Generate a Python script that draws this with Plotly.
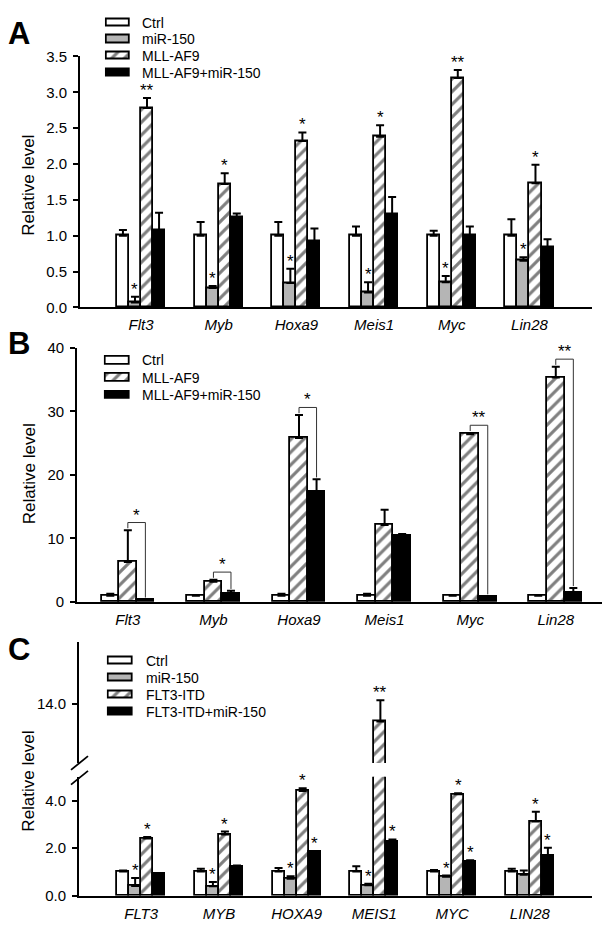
import plotly.graph_objects as go

FONT = "Liberation Sans, Arial, sans-serif"

# ---------------- data ----------------
genes_mouse = ["Flt3", "Myb", "Hoxa9", "Meis1", "Myc", "Lin28"]
genes_human = ["FLT3", "MYB", "HOXA9", "MEIS1", "MYC", "LIN28"]

# Panel A
a_names = ["Ctrl", "miR-150", "MLL-AF9", "MLL-AF9+miR-150"]
a_ctrl = [1.0, 1.0, 1.0, 1.0, 1.0, 1.0]
a_ctrl_err = [0.08, 0.19, 0.19, 0.13, 0.07, 0.23]
a_mir = [0.07, 0.27, 0.34, 0.21, 0.35, 0.65]
a_mir_err = [0.08, 0.03, 0.20, 0.14, 0.09, 0.05]
a_mll = [2.78, 1.72, 2.32, 2.38, 3.20, 1.73]
a_mll_err = [0.14, 0.15, 0.12, 0.16, 0.11, 0.26]
a_combo = [1.08, 1.25, 0.92, 1.30, 1.00, 0.84]
a_combo_err = [0.24, 0.06, 0.18, 0.24, 0.13, 0.11]
a_star_ctrl = ["", "", "", "", "", ""]
a_star_mir = ["*", "*", "*", "*", "*", "*"]
a_star_mll = ["**", "*", "*", "*", "**", "*"]
a_star_combo = ["", "", "", "", "", ""]

# Panel B
b_names = ["Ctrl", "MLL-AF9", "MLL-AF9+miR-150"]
b_ctrl = [1.0, 1.0, 1.0, 1.0, 1.0, 1.0]
b_ctrl_err = [0.3, 0.05, 0.3, 0.3, 0.05, 0.05]
b_mll = [6.3, 3.2, 25.8, 12.1, 26.4, 35.3]
b_mll_err = [5.0, 0.3, 3.6, 2.4, 0.2, 1.7]
b_combo = [0.3, 1.35, 17.3, 10.5, 0.8, 1.5]
b_combo_err = [0.1, 0.4, 2.0, 0.2, 0.1, 0.7]
b_stars = ["*", "*", "*", "", "**", "**"]

# Panel C
c_names = ["Ctrl", "miR-150", "FLT3-ITD", "FLT3-ITD+miR-150"]
c_ctrl = [1.02, 1.02, 1.02, 1.02, 1.02, 1.02]
c_ctrl_err = [0.04, 0.12, 0.15, 0.22, 0.06, 0.12]
c_mir = [0.41, 0.40, 0.72, 0.44, 0.80, 0.89]
c_mir_err = [0.34, 0.18, 0.10, 0.07, 0.05, 0.17]
c_itd = [2.41, 2.57, 4.40, 13.25, 4.26, 3.12]
c_itd_err = [0.06, 0.13, 0.12, 0.90, 0.05, 0.41]
c_combo = [0.93, 1.24, 1.84, 2.29, 1.44, 1.67]
c_combo_err = [0.03, 0.03, 0.03, 0.08, 0.05, 0.35]
c_star_ctrl = ["", "", "", "", "", ""]
c_star_mir = ["*", "*", "*", "*", "*", ""]
c_star_itd = ["*", "*", "*", "**", "*", "*"]
c_star_combo = ["", "", "*", "*", "*", "*"]

# ---------------- styles ----------------
GRAY = "#b5b5b5"
styles4 = [
    dict(color="white"),
    dict(color=GRAY),
    dict(color="white", pattern=dict(shape="/", fgcolor="black", bgcolor="white", size=9, solidity=0.35)),
    dict(color="black"),
]
styles3 = [styles4[0], styles4[2], styles4[3]]

W, H = 612, 932


def px_x(p):
    return p / W


def px_y(p):
    return 1 - p / H


fig = go.Figure()
annotations = []
extra_axes = {}


def make_marker(st):
    marker = dict(color=st["color"], line=dict(color="black", width=1.8))
    if "pattern" in st:
        marker["pattern"] = st["pattern"]
    return marker


def add_bars(xa, ya, series, names, styles, width, stars=None, yref_star=None):
    n = len(series)
    for k, (vals, errs) in enumerate(series):
        off = (k - (n - 1) / 2) * width
        xs = [i + off for i in range(len(vals))]
        fig.add_trace(go.Bar(
            x=xs, y=vals, width=width, name=names[k], marker=make_marker(styles[k]),
            error_y=dict(type="data", array=errs, arrayminus=[0] * len(errs), symmetric=False,
                         color="black", thickness=2, width=4),
            xaxis=xa, yaxis=ya, showlegend=False,
        ))
        if stars is not None:
            for i, s in enumerate(stars[k]):
                if s:
                    yv = vals[i] + errs[i]
                    yr = yref_star(yv) if yref_star else ya
                    annotations.append(dict(
                        x=xs[i], y=yv, xref=xa, yref=yr, text=s, showarrow=False,
                        yanchor="bottom", yshift=-4,
                        font=dict(family=FONT, size=17, color="black")))


def add_legend(xa, ya, names, styles, sw_x0, sw_x1, rows, text_x):
    """Legend drawn as small horizontal bars (swatches) on a hidden axis pair."""
    n = len(names)
    step = (rows[-1] - rows[0]) / (n - 1)
    pad = 0.1
    wpx = sw_x1 - sw_x0
    extra_axes["xaxis" + xa[1:]] = dict(domain=[px_x(sw_x0 - pad * wpx), px_x(sw_x1 + pad * wpx)],
                                        range=[-pad, 1 + pad], visible=False, anchor=ya, fixedrange=True)
    extra_axes["yaxis" + ya[1:]] = dict(domain=[px_y(rows[-1] + step / 2), px_y(rows[0] - step / 2)],
                                        range=[n - 0.5, -0.5], visible=False, anchor=xa, fixedrange=True)
    for k, nm in enumerate(names):
        fig.add_trace(go.Bar(orientation="h", x=[1], y=[k], base=0, width=0.44,
                             marker=make_marker(styles[k]), xaxis=xa, yaxis=ya,
                             showlegend=False, hoverinfo="skip", cliponaxis=False))
        annotations.append(dict(x=px_x(text_x), y=k, xref="paper", yref=ya, text=nm, showarrow=False,
                                xanchor="left", yanchor="middle",
                                font=dict(family=FONT, size=14, color="black")))


# Panel A
wA = 0.155
add_bars("x", "y",
         [(a_ctrl, a_ctrl_err), (a_mir, a_mir_err), (a_mll, a_mll_err), (a_combo, a_combo_err)],
         a_names, styles4, wA,
         stars=[a_star_ctrl, a_star_mir, a_star_mll, a_star_combo])
add_legend("x4", "y5", a_names, styles4, 107, 130, [14, 31, 48.5, 65], 140)

# Panel B
wB = 0.205
add_bars("x2", "y2",
         [(b_ctrl, b_ctrl_err), (b_mll, b_mll_err), (b_combo, b_combo_err)],
         b_names, styles3, wB)
add_legend("x5", "y6", b_names, styles3, 106, 130, [358, 376, 393.5], 140)
# significance brackets between MLL-AF9 and MLL-AF9+miR-150
for i, s in enumerate(b_stars):
    if not s:
        continue
    t1 = b_mll[i] + b_mll_err[i]
    t2 = b_combo[i] + b_combo_err[i]
    h = max(t1, t2) + 1.2
    fig.add_trace(go.Scatter(
        x=[i, i, i + wB, i + wB], y=[t1 + 0.3, h, h, t2 + 0.3], mode="lines",
        line=dict(color="#333333", width=1), xaxis="x2", yaxis="y2",
        showlegend=False, hoverinfo="skip", cliponaxis=False))
    annotations.append(dict(x=i + wB / 2, y=h, xref="x2", yref="y2", text=s, showarrow=False,
                            yanchor="bottom", yshift=-4, font=dict(family=FONT, size=17, color="black")))

# Panel C (broken axis: lower y3, upper y4)
C_LOW_MAX = 5.0
C_HIGH = [11.51, 16.59]
seriesC = [(c_ctrl, c_ctrl_err), (c_mir, c_mir_err), (c_itd, c_itd_err), (c_combo, c_combo_err)]
add_bars("x3", "y3", seriesC, c_names, styles4, wA,
         stars=[c_star_ctrl, c_star_mir, c_star_itd, c_star_combo],
         yref_star=lambda v: "y4" if v > C_LOW_MAX else "y3")
add_bars("x3", "y4", seriesC, c_names, styles4, wA)
add_legend("x6", "y7", c_names, styles4, 109, 133, [664, 681.5, 698.5, 716], 144)

# ---------------- layout ----------------
tickfont = dict(family=FONT, size=15, color="black")
xlabfont = dict(family=FONT, size=15, color="black", style="italic")

common_y = dict(showline=True, linecolor="black", linewidth=1.8, ticks="outside", ticklen=5,
                tickwidth=1.8, tickcolor="black", showgrid=False, zeroline=False, tickfont=tickfont,
                ticklabelstandoff=3, fixedrange=True)
common_x = dict(showline=True, linecolor="black", linewidth=1.8, ticks="", showgrid=False,
                zeroline=False, tickfont=xlabfont, tickmode="array", tickvals=list(range(6)),
                ticklabelstandoff=3, fixedrange=True)

fig.update_layout(
    width=W, height=H, margin=dict(l=0, r=0, t=0, b=0),
    paper_bgcolor="white", plot_bgcolor="rgba(0,0,0,0)",
    barmode="overlay", bargap=0, showlegend=False,
    font=dict(family=FONT, color="black"),
    xaxis=dict(common_x, domain=[px_x(80), px_x(592)], range=[-0.785, 5.805], anchor="y",
               ticktext=genes_mouse),
    yaxis=dict(common_y, domain=[px_y(304), px_y(48.3)], range=[0, 3.5], anchor="x",
               tickvals=[0, 0.5, 1, 1.5, 2, 2.5, 3, 3.5], tickformat=".1f"),
    xaxis2=dict(common_x, domain=[px_x(77), px_x(602)], range=[-0.594, 5.54], anchor="y2",
                ticktext=genes_mouse),
    yaxis2=dict(common_y, domain=[px_y(604), px_y(345)], range=[0, 40], anchor="x2",
                tickvals=[0, 10, 20, 30, 40]),
    xaxis3=dict(common_x, domain=[px_x(79), px_x(592)], range=[-0.80, 5.80], anchor="y3",
                ticktext=genes_human),
    yaxis3=dict(common_y, domain=[px_y(903.3), px_y(782)], range=[0, C_LOW_MAX], anchor="x3",
                tickvals=[0, 2, 4], tickformat=".1f"),
    yaxis4=dict(common_y, domain=[px_y(768), px_y(645)], range=C_HIGH, anchor="x3",
                tickvals=[14], tickformat=".1f"),
)
fig.update_layout(**extra_axes)

# panel letters and axis titles
for letter, ytop in [("A", 5), ("B", 321), ("C", 633)]:
    annotations.append(dict(x=px_x(6), y=px_y(ytop), xref="paper", yref="paper", text="<b>%s</b>" % letter,
                            showarrow=False, xanchor="left", yanchor="top",
                            font=dict(family=FONT, size=31, color="black")))
for yc in [180, 474, 787]:
    annotations.append(dict(x=px_x(29), y=px_y(yc), xref="paper", yref="paper", text="Relative level",
                            showarrow=False, textangle=-90, xanchor="center", yanchor="middle",
                            font=dict(family=FONT, size=17, color="black")))
fig.update_layout(annotations=annotations)

# axis break marks for panel C
for y0 in [775, 790]:
    fig.add_shape(type="line", xref="paper", yref="paper",
                  x0=px_x(71), y0=px_y(y0), x1=px_x(88), y1=px_y(y0 - 14),
                  line=dict(color="black", width=1.8))

fig.write_html("out.html", config={"displayModeBar": False},
               post_script="document.body.style.margin='0';document.body.style.overflow='hidden';")
